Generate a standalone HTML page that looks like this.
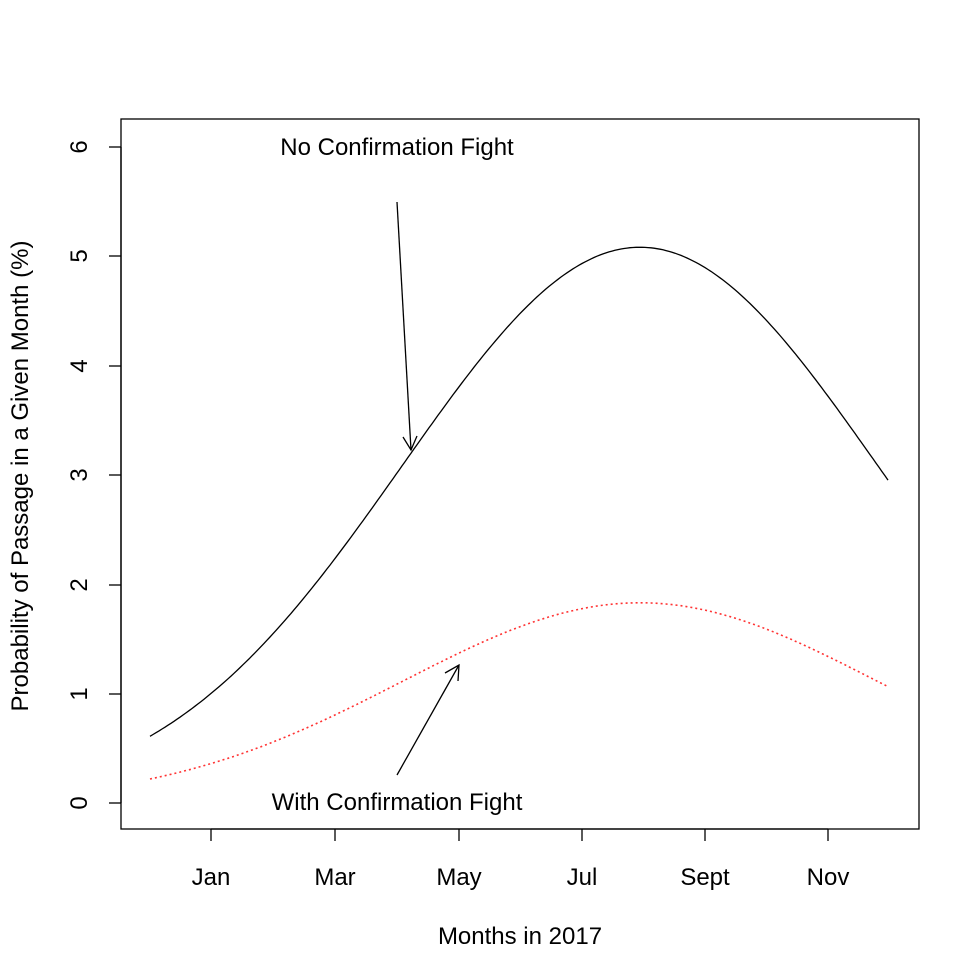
<!DOCTYPE html>
<html><head><style>body{margin:0;background:#fff}svg{display:block}</style></head><body>
<svg width="980" height="980" xmlns="http://www.w3.org/2000/svg" font-family="Liberation Sans, Arial, sans-serif" font-size="24" fill="#000">
<rect x="121" y="119" width="798" height="710" fill="none" stroke="#000" stroke-width="1.3"/>
<g stroke="#000" stroke-width="1.3">
<line x1="121" y1="147" x2="121" y2="803"/>
<line x1="109" y1="147" x2="121" y2="147"/><line x1="109" y1="256" x2="121" y2="256"/><line x1="109" y1="366" x2="121" y2="366"/><line x1="109" y1="475" x2="121" y2="475"/><line x1="109" y1="585" x2="121" y2="585"/><line x1="109" y1="694" x2="121" y2="694"/><line x1="109" y1="803" x2="121" y2="803"/>
<line x1="211" y1="829" x2="828" y2="829"/>
<line x1="211" y1="829" x2="211" y2="841"/><line x1="335" y1="829" x2="335" y2="841"/><line x1="459" y1="829" x2="459" y2="841"/><line x1="582" y1="829" x2="582" y2="841"/><line x1="705" y1="829" x2="705" y2="841"/><line x1="828" y1="829" x2="828" y2="841"/>
</g>
<g text-anchor="middle">
<text transform="translate(87,147) rotate(-90)">6</text>
<text transform="translate(87,256) rotate(-90)">5</text>
<text transform="translate(87,366) rotate(-90)">4</text>
<text transform="translate(87,475) rotate(-90)">3</text>
<text transform="translate(87,585) rotate(-90)">2</text>
<text transform="translate(87,694) rotate(-90)">1</text>
<text transform="translate(87,803) rotate(-90)">0</text>
<text x="211" y="885">Jan</text><text x="335" y="885">Mar</text><text x="459" y="885">May</text><text x="582" y="885">Jul</text><text x="705" y="885">Sept</text><text x="828" y="885">Nov</text>
<text x="520" y="944">Months in 2017</text>
<text transform="translate(28,476) rotate(-90)">Probability of Passage in a Given Month (%)</text>
<text x="397" y="155">No Confirmation Fight</text>
<text x="397" y="810">With Confirmation Fight</text>
</g>
<path id="b" fill="none" stroke="#000" stroke-width="1.3"/>
<path id="r" fill="none" stroke="#f33" stroke-width="1.6" stroke-dasharray="2,3"/>
<g stroke="#000" stroke-width="1.3" fill="none">
<line x1="397" y1="202" x2="411" y2="450"/>
<polyline points="403,437 411,450 417,436"/>
<line x1="397" y1="775" x2="459" y2="665"/>
<polyline points="445,673 459,665 458,681"/>
</g>
<script>
function pts(A){let s="";for(let x=150;x<=889;x+=3){const v=A*Math.exp(-Math.pow(x-640,2)/(2*238*238));s+=(s?"L":"M")+x+","+(803-109.4*v).toFixed(1);}return s;}
document.getElementById("b").setAttribute("d",pts(5.08));
document.getElementById("r").setAttribute("d",pts(1.83));
</script>
</svg>
</body></html>
